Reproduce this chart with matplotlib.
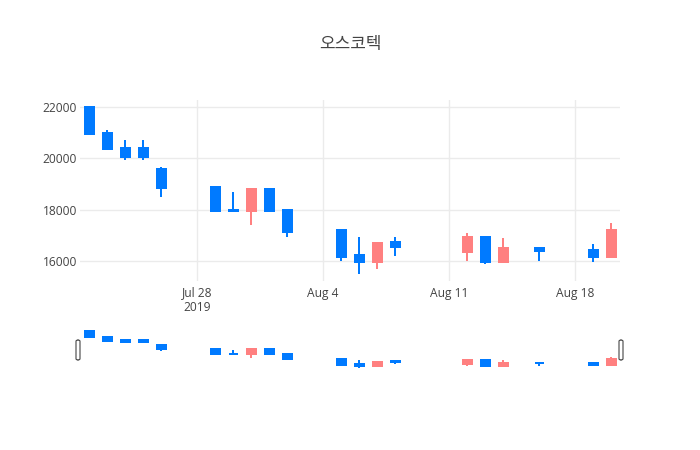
import matplotlib
matplotlib.use("Agg")
import matplotlib.pyplot as plt
import matplotlib.dates as mdates
from matplotlib.patches import FancyBboxPatch
import datetime as dt

dates = ["2019-07-22", "2019-07-23", "2019-07-24", "2019-07-25", "2019-07-26",
         "2019-07-29", "2019-07-30", "2019-07-31", "2019-08-01", "2019-08-02",
         "2019-08-05", "2019-08-06", "2019-08-07", "2019-08-08",
         "2019-08-12", "2019-08-13", "2019-08-14", "2019-08-16",
         "2019-08-19", "2019-08-20"]
opens = [22000, 21000, 20400, 20400, 19600, 18900, 18000, 17950, 18800, 18000,
         17200, 16250, 15950, 16750, 16350, 16950, 15950, 16500, 16450, 16150]
highs = [22000, 21100, 20700, 20700, 19650, 18900, 18700, 18800, 18800, 18000,
         17250, 16950, 16700, 16950, 17100, 16950, 16900, 16500, 16650, 17500]
lows = [20900, 20350, 19950, 19950, 18500, 17900, 17950, 17400, 17950, 16950,
        16000, 15500, 15700, 16200, 16000, 15900, 15950, 16000, 15950, 16150]
closes = [20950, 20350, 20050, 20050, 18850, 17950, 17950, 18800, 17950, 17150,
          16150, 15950, 16700, 16550, 16950, 15950, 16500, 16400, 16150, 17200]
title = "오스코텍"
ytick_vals = [16000, 18000, 20000, 22000]
xtick_dates = ["2019-07-28", "2019-08-04", "2019-08-11", "2019-08-18"]
xtick_labels = ["Jul 28\n2019", "Aug 4", "Aug 11", "Aug 18"]

UP = "#ff8080"
DOWN = "#007aff"
GRID = "#ebebeb"
TXT = "#444444"

W, H = 700, 450
fig = plt.figure(figsize=(7, 4.5), dpi=100)
fig.patch.set_facecolor("white")

def px_axes(left, top, right, bottom):
    return fig.add_axes([left / W, 1 - bottom / H, (right - left) / W, (bottom - top) / H])

ax = px_axes(80, 100, 620, 281)
sl = px_axes(80, 329.5, 620, 370)

xd = [mdates.date2num(dt.datetime.strptime(d, "%Y-%m-%d")) for d in dates]
xmin = mdates.date2num(dt.datetime(2019, 7, 21, 12))
xmax = mdates.date2num(dt.datetime(2019, 8, 20, 12))
ylo, yhi = 15227, 22273

lw = 1.44
for a in (ax, sl):
    for x, o, h, l, c in zip(xd, opens, highs, lows, closes):
        col = UP if c > o else DOWN
        a.vlines(x, l, h, color=col, lw=lw, zorder=3)
        a.bar(x, abs(c - o), bottom=min(o, c), width=0.5, color=col,
              edgecolor=col, linewidth=lw, zorder=4)
    a.set_xlim(xmin, xmax)
    a.set_ylim(ylo, yhi)
    for s in a.spines.values():
        s.set_visible(False)
    a.set_facecolor("white")

ax.set_yticks(ytick_vals)
ax.set_yticklabels([str(v) for v in ytick_vals])
ax.set_xticks([mdates.date2num(dt.datetime.strptime(d, "%Y-%m-%d")) for d in xtick_dates])
ax.set_xticklabels(xtick_labels)
ax.grid(True, color=GRID, lw=1, zorder=0)
ax.set_axisbelow(True)
ax.tick_params(axis="both", length=0, colors=TXT, labelsize=8.64)
ax.tick_params(axis="y", pad=2)
ax.tick_params(axis="x", pad=4)
for t in ax.get_xticklabels() + ax.get_yticklabels():
    t.set_fontfamily(["Open Sans", "DejaVu Sans"])
    t.set_linespacing(1.1)

sl.set_xticks([])
sl.set_yticks([])

# range slider grabbers
for cx in (78, 621):
    p = FancyBboxPatch(((cx - 2) / W, 1 - 360 / H), 4 / W, 20 / H,
                       boxstyle="round,pad=0,rounding_size=0.003",
                       transform=fig.transFigure, facecolor="white",
                       edgecolor=TXT, linewidth=0.8, zorder=10)
    fig.patches.append(p)

fig.text(0.5, 1 - 44 / H, title, ha="center", va="center", color=TXT,
         fontsize=12.24, family=["Noto Sans CJK KR", "DejaVu Sans"])

fig.savefig("out.png", dpi=100, facecolor="white")
